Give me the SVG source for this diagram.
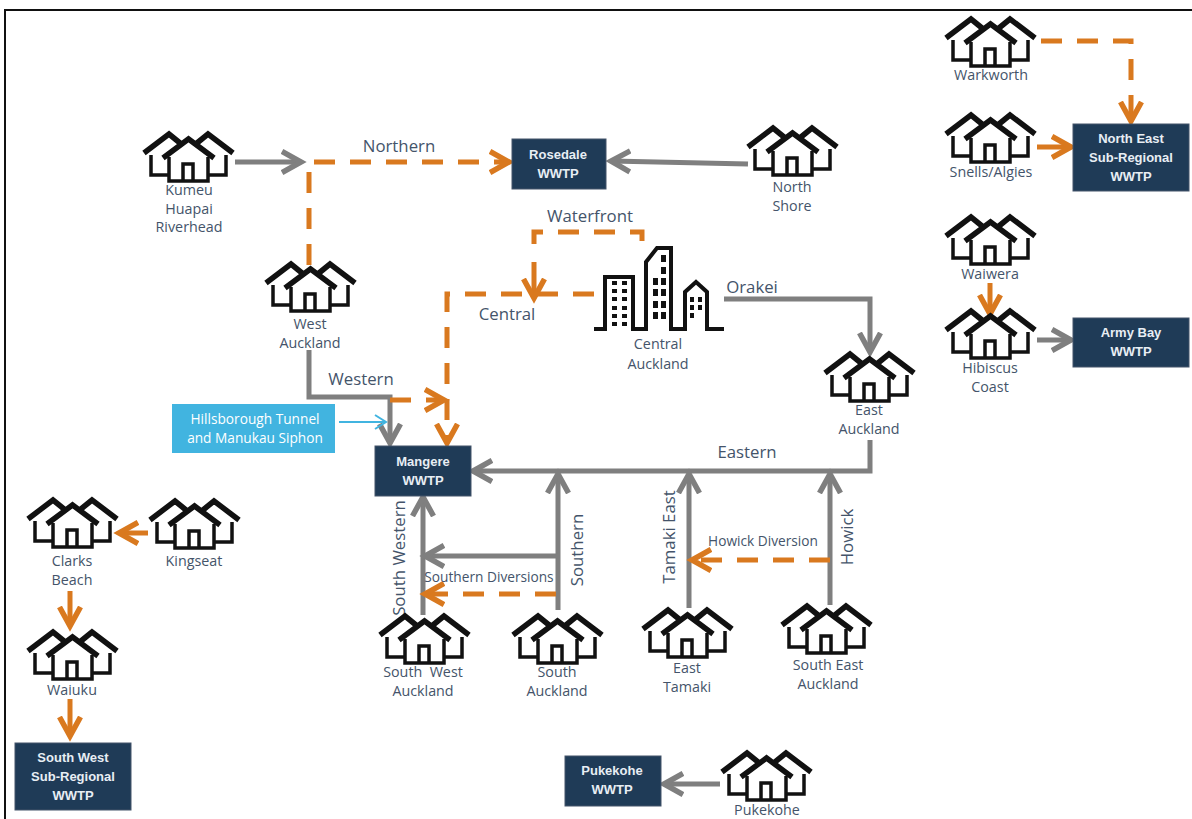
<svg xmlns="http://www.w3.org/2000/svg" width="1192" height="819" viewBox="0 0 1192 819">
<style>
text{font-family:"Open Sans","Liberation Sans",sans-serif;fill:#44546a;text-anchor:middle;white-space:pre}
.l{font-size:14.3px}.e{font-size:13.7px}.c{font-size:16.8px}
.b{fill:#1f3b57;stroke:#44546a;stroke-width:1}
.t{font-family:"Liberation Sans",sans-serif;font-weight:700;font-size:13px;fill:#e8eef4}
.g{fill:none;stroke:#7f7f7f;stroke-width:5}
.o{fill:none;stroke:#d9791f;stroke-width:5}
.d{stroke-dasharray:21 15}
.i{fill:none;stroke:#111;stroke-width:3.5}
.r{fill:none;stroke:#111;stroke-width:5.5}
</style>
<defs>
<g id="h">
<path class="i" d="M-37-26V-6H-19M38-26V-6H20M-19-24V0H20V-24M-5 0V-17H5V0"/>
<path class="r" d="M-44-28L-19-47L-8-38M45-28L20-47L9-38M-25-23L0.5-42L26-23"/>
</g>
<marker id="mg" markerUnits="userSpaceOnUse" markerWidth="30" markerHeight="30" refX="20" refY="15" orient="auto"><path d="M1 4.500L20 15L1 25.500" fill="none" stroke="#7f7f7f" stroke-width="5.500"/></marker>
<marker id="mo" markerUnits="userSpaceOnUse" markerWidth="30" markerHeight="30" refX="20" refY="15" orient="auto"><path d="M1 4.500L20 15L1 25.500" fill="none" stroke="#d9791f" stroke-width="5.500"/></marker>
<marker id="mb" markerUnits="userSpaceOnUse" markerWidth="20" markerHeight="20" refX="13" refY="10" orient="auto"><path d="M2 3L13 10L2 17" fill="none" stroke="#41b4e0" stroke-width="2"/></marker>
</defs>
<path d="M5 819V10H1192" fill="none" stroke="#111" stroke-width="2"/>
<g id="connectors">
<path class="g" marker-end="url(#mg)" d="M235 162H301"/>
<path class="o d" marker-end="url(#mo)" d="M314 162H509"/>
<path class="o d" d="M309 172V266"/>
<path class="g" marker-end="url(#mg)" d="M748 164L611 161"/>
<path class="o d" d="M642 241V232H534V245"/>
<path class="o" marker-end="url(#mo)" d="M534 262V298"/>
<path class="o d" marker-end="url(#mo)" d="M594 294H447V443"/>
<path class="g" marker-end="url(#mg)" d="M724 299H870V352"/>
<path class="g" marker-end="url(#mg)" d="M309 350V397H390V443"/>
<path class="o d" marker-end="url(#mo)" d="M390 400H444"/>
<path d="M339 422H386" fill="none" stroke="#41b4e0" stroke-width="2" marker-end="url(#mb)"/>
<path class="g" marker-end="url(#mg)" d="M870 440V471H473"/>
<path class="g" marker-end="url(#mg)" d="M558 610V474"/>
<path class="g" marker-end="url(#mg)" d="M689 608V474"/>
<path class="g" marker-end="url(#mg)" d="M830 605V474"/>
<path class="g" marker-end="url(#mg)" d="M423 615V497"/>
<path class="g" marker-end="url(#mg)" d="M558 556H425"/>
<path class="o d" marker-end="url(#mo)" d="M556 594H425"/>
<path class="o d" marker-end="url(#mo)" d="M830 560H692"/>
<path class="g" marker-end="url(#mg)" d="M720 784H664"/>
<path class="o d" marker-end="url(#mo)" d="M1041 41H1131V121"/>
<path class="o" marker-end="url(#mo)" d="M1037 147H1071"/>
<path class="o" marker-end="url(#mo)" d="M990 283V314"/>
<path class="g" marker-end="url(#mg)" d="M1037 340H1071"/>
<path class="o" marker-end="url(#mo)" d="M148 533H119"/>
<path class="o" marker-end="url(#mo)" d="M70 591V626"/>
<path class="o" marker-end="url(#mo)" d="M70 699V736"/>
</g>
<g id="labels">
<text class="c" x="399" y="152">Northern</text>
<text class="c" x="590" y="222">Waterfront</text>
<text class="c" x="507" y="320">Central</text>
<text class="c" x="752" y="293">Orakei</text>
<text class="c" x="361" y="385">Western</text>
<text class="c" x="747" y="458">Eastern</text>
<text class="e" x="489" y="582">Southern Diversions</text>
<text class="e" x="763" y="546">Howick Diversion</text>
<text class="c" transform="translate(405 558) rotate(-90)">South Western</text>
<text class="c" transform="translate(583 550) rotate(-90)">Southern</text>
<text class="c" transform="translate(675 537) rotate(-90)">Tamaki East</text>
<text class="c" transform="translate(853 537) rotate(-90)">Howick</text>
</g>
<g id="rosedale"><rect class="b" x="512" y="139" width="94" height="50"/><text class="t" x="558" y="159">Rosedale</text><text class="t" x="558" y="178">WWTP</text></g>
<g id="mangere"><rect class="b" x="375" y="446" width="96" height="50"/><text class="t" x="423" y="466">Mangere</text><text class="t" x="423" y="485">WWTP</text></g>
<g id="ne"><rect class="b" x="1073" y="124" width="116" height="67"/><text class="t" x="1131" y="143">North East</text><text class="t" x="1131" y="162">Sub-Regional</text><text class="t" x="1131" y="181">WWTP</text></g>
<g id="armybay"><rect class="b" x="1073" y="318" width="116" height="49"/><text class="t" x="1131" y="337">Army Bay</text><text class="t" x="1131" y="356">WWTP</text></g>
<g id="sw"><rect class="b" x="15" y="743" width="116" height="67"/><text class="t" x="73" y="762">South West</text><text class="t" x="73" y="781">Sub-Regional</text><text class="t" x="73" y="800">WWTP</text></g>
<g id="pukekohe-wwtp"><rect class="b" x="565" y="756" width="96" height="50"/><text class="t" x="612" y="775">Pukekohe</text><text class="t" x="612" y="794">WWTP</text></g>
<g id="tunnel"><rect x="172" y="404" width="163" height="49" fill="#41b4e0"/><text class="e" x="255" y="424" style="fill:#fff">Hillsborough Tunnel</text><text class="e" x="255" y="443" style="fill:#fff">and Manukau Siphon</text></g>
<g id="central"><path d="M594 329H605V277H633V329H646V262L657 248H671V329H685V292L696 282L707 292V329H724" fill="none" stroke="#111" stroke-width="4"/>
<path d="M612 281h5v4h-5zM622 281h5v4h-5zM612 289h5v4h-5zM622 289h5v4h-5zM612 297h5v4h-5zM622 297h5v4h-5zM612 306h5v4h-5zM622 306h5v4h-5zM612 314h5v4h-5zM622 314h5v4h-5zM612 322h5v4h-5zM622 322h5v4h-5zM661 255h5v7h-5zM661 267h5v7h-5zM653 278h5v7h-5zM661 278h5v7h-5zM653 289h5v7h-5zM661 289h5v7h-5zM653 301h5v7h-5zM661 301h5v7h-5zM653 312h5v7h-5zM661 312h5v7h-5zM690 297h4v5h-4zM698 297h4v5h-4zM690 305h4v5h-4zM698 305h4v5h-4zM690 313h4v5h-4z" fill="#111"/>
<text class="l" x="658" y="349">Central</text><text class="l" x="658" y="369">Auckland</text></g>
<g id="kumeu"><use href="#h" x="188" y="181"/><text class="l" x="189" y="195">Kumeu</text><text class="l" x="189" y="214">Huapai</text><text class="l" x="189" y="232">Riverhead</text></g>
<g id="north-shore"><use href="#h" x="792" y="175"/><text class="l" x="792" y="192">North</text><text class="l" x="792" y="211">Shore</text></g>
<g id="west"><use href="#h" x="310" y="311"/><text class="l" x="310" y="329">West</text><text class="l" x="310" y="348">Auckland</text></g>
<g id="east"><use href="#h" x="869" y="401"/><text class="l" x="869" y="415">East</text><text class="l" x="869" y="434">Auckland</text></g>
<g id="warkworth"><use href="#h" x="990" y="66"/><text class="l" x="991" y="80">Warkworth</text></g>
<g id="snells"><use href="#h" x="990" y="162"/><text class="l" x="991" y="177">Snells/Algies</text></g>
<g id="waiwera"><use href="#h" x="990" y="264"/><text class="l" x="990" y="279">Waiwera</text></g>
<g id="hibiscus"><use href="#h" x="990" y="358"/><text class="l" x="990" y="373">Hibiscus</text><text class="l" x="990" y="392">Coast</text></g>
<g id="clarks"><use href="#h" x="72" y="547"/><text class="l" x="72" y="566">Clarks</text><text class="l" x="72" y="585">Beach</text></g>
<g id="kingseat"><use href="#h" x="194" y="548"/><text class="l" x="194" y="566">Kingseat</text></g>
<g id="waiuku"><use href="#h" x="72" y="679"/><text class="l" x="72" y="695">Waiuku</text></g>
<g id="south-west"><use href="#h" x="424" y="663"/><text class="l" x="423" y="677">South  West</text><text class="l" x="423" y="696">Auckland</text></g>
<g id="south"><use href="#h" x="557" y="663"/><text class="l" x="557" y="677">South</text><text class="l" x="557" y="696">Auckland</text></g>
<g id="east-tamaki"><use href="#h" x="687" y="657"/><text class="l" x="687" y="673">East</text><text class="l" x="687" y="692">Tamaki</text></g>
<g id="south-east"><use href="#h" x="826" y="653"/><text class="l" x="828" y="670">South East</text><text class="l" x="828" y="689">Auckland</text></g>
<g id="pukekohe"><use href="#h" x="766" y="800"/><text class="l" x="767" y="815">Pukekohe</text></g>
</svg>
